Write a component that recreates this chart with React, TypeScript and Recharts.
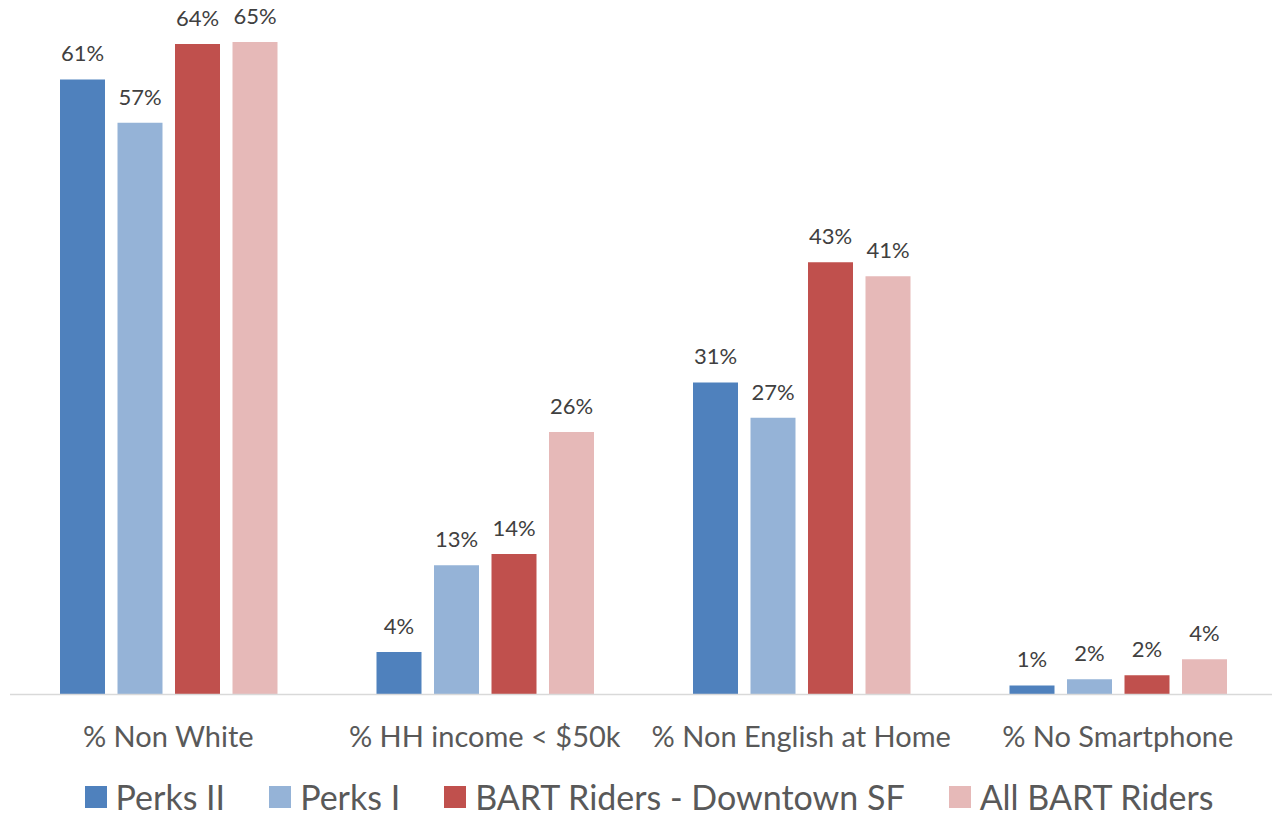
import React from 'react';
import { BarChart, Bar, XAxis, YAxis, Legend, LabelList } from 'recharts';

// categories along the x axis
const categories = ['% Non White', '% HH income < $50k', '% Non English at Home', '% No Smartphone'];

// series values, in percent
const perksII = [60.9, 4.2, 30.9, 0.9];
const perksI = [56.6, 12.8, 27.4, 1.5];
const bartDowntown = [64.4, 13.9, 42.8, 1.9];
const allBart = [64.6, 26.0, 41.4, 3.5];

const seriesNames = ['Perks II', 'Perks I', 'BART Riders - Downtown SF', 'All BART Riders'];
const seriesKeys = ['perksII', 'perksI', 'bartDowntown', 'allBart'];
const seriesColors = ['#4F81BD', '#95B3D7', '#C0504D', '#E6B9B8'];

const data = categories.map((name, i) => ({
  name,
  perksII: perksII[i],
  perksI: perksI[i],
  bartDowntown: bartDowntown[i],
  allBart: allBart[i],
}));

const FONT = "Lato, 'Open Sans', sans-serif";

const AxisTick = (props: any) => {
  const { x, y, payload } = props;
  return (
    <text x={x} y={y} dy={52} textAnchor="middle" fill="#595959" fontSize={29} fontFamily={FONT}>
      {payload.value}
    </text>
  );
};

const LegendContent = () => (
  <div
    style={{
      display: 'flex',
      justifyContent: 'center',
      alignItems: 'center',
      boxSizing: 'border-box',
      height: 63.5,
      paddingTop: 21,
      paddingLeft: 12,
      fontFamily: FONT,
      fontSize: 34,
      lineHeight: 1,
      color: '#595959',
      whiteSpace: 'nowrap',
    }}
  >
    {seriesNames.map((n, i) => (
      <div key={n} style={{ display: 'flex', alignItems: 'center', marginRight: i < seriesNames.length - 1 ? 44 : 0 }}>
        <span style={{ display: 'inline-block', width: 22, height: 22, background: seriesColors[i], marginRight: 9 }} />
        <span style={{ lineHeight: 1 }}>{n}</span>
      </div>
    ))}
  </div>
);

export default function App() {
  return (
    <div style={{ position: 'absolute', left: 0, top: 0, width: 1272, height: 818, overflow: 'hidden', background: '#fff' }}>
      <BarChart
        width={1280}
        height={818}
        data={data}
        margin={{ top: 7.7, right: 4, left: 10, bottom: 0 }}
        barSize={45}
        barGap={12.5}
      >
        <XAxis
          dataKey="name"
          height={60}
          axisLine={{ stroke: '#D9D9D9', strokeWidth: 1.3 }}
          tickLine={false}
          tickSize={0}
          tickMargin={0}
          interval={0}
          tick={<AxisTick />}
        />
        <YAxis hide domain={[0, 68]} />
        <Legend verticalAlign="bottom" height={63.5} content={<LegendContent />} />
        {seriesKeys.map((k, i) => (
          <Bar key={k} dataKey={k} name={seriesNames[i]} fill={seriesColors[i]} isAnimationActive={false}>
            <LabelList
              dataKey={k}
              position="top"
              offset={18}
              fill="#404040"
              fontSize={22}
              fontFamily={FONT}
              formatter={(v: any) => `${Math.round(Number(v))}%`}
            />
          </Bar>
        ))}
      </BarChart>
    </div>
  );
}
